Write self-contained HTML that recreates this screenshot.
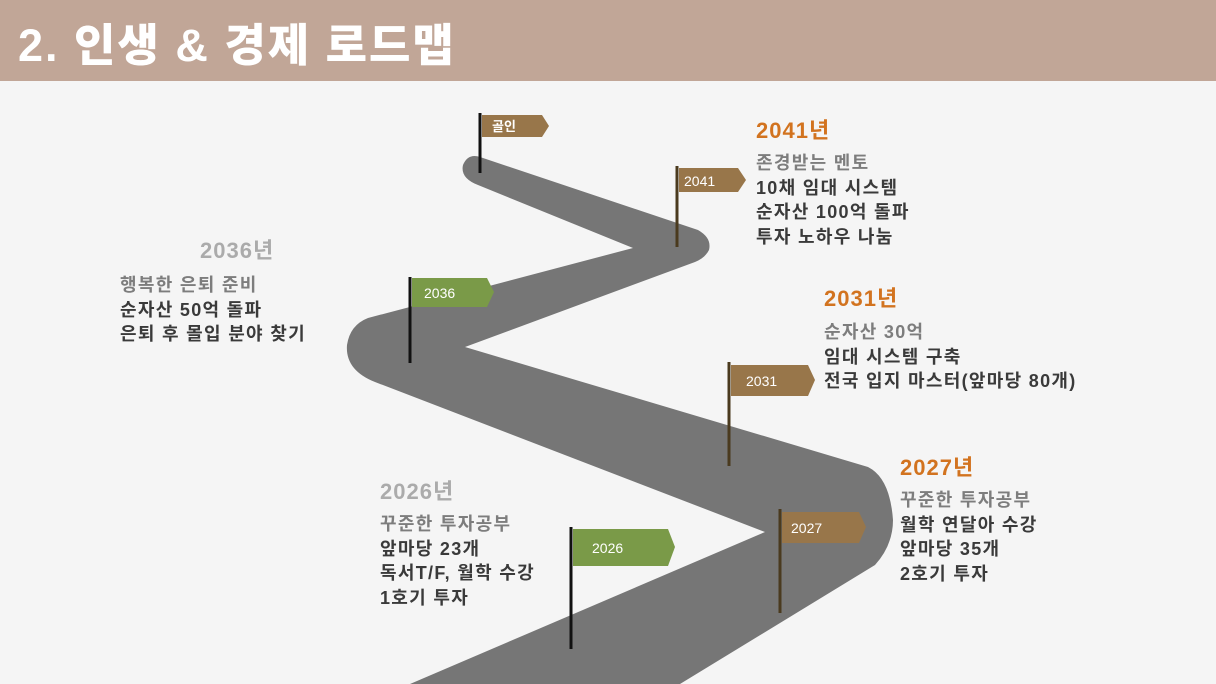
<!DOCTYPE html>
<html><head><meta charset="utf-8"><style>
body{margin:0;width:1216px;height:684px;overflow:hidden;background:#f5f5f5;position:relative;font-family:"Liberation Sans","Noto Sans CJK KR",sans-serif}
.hdr{position:absolute;left:0;top:0;width:1216px;height:81px;background:#c1a697}
.title{position:absolute;left:18px;top:9px;color:#fff;font-size:45px;font-weight:900;letter-spacing:2px;font-family:"Liberation Sans","Noto Sans CJK KR",sans-serif}
.t{position:absolute;font-size:18px;line-height:24.5px;font-weight:700;color:#3a3a3a;letter-spacing:1.3px;white-space:nowrap}
.t .g{color:#7d7d7d}
.y{position:absolute;font-size:22px;font-weight:700;letter-spacing:1px;white-space:nowrap}
.o{color:#d2731f}.gy{color:#ababab}
</style></head><body>
<div class="hdr"></div>
<div class="title">2. 인생 &amp; 경제 로드맵</div>
<svg width="1216" height="684" style="position:absolute;left:0;top:0">
<path d="M410,684 L765,532 L375,382 Q345,370 347,345 Q350,325 368,318 L633,248 L478,185 Q460,178 463,165 Q468,153 480,157 L698,230 Q712,238 709,250 Q705,258 695,262 L465,347 L868,467 Q890,478 893,520 Q893,545 875,565 L680,684 Z" fill="#767676"/>
<g font-family="Liberation Sans, Noto Sans CJK KR, sans-serif" font-size="14" fill="#fff">
<line x1="480" y1="113" x2="480" y2="173" stroke="#111" stroke-width="3"/>
<polygon points="482,115 542,115 549,126 542,137 482,137" fill="#98764a"/>
<text x="492" y="131" font-weight="700" font-size="13">골인</text>
<line x1="677" y1="166" x2="677" y2="247" stroke="#4a3a1e" stroke-width="3"/>
<polygon points="679,168 738,168 746,180 738,192 679,192" fill="#98764a"/>
<text x="684" y="186">2041</text>
<line x1="410" y1="277" x2="410" y2="363" stroke="#111" stroke-width="3"/>
<polygon points="412,278 487,278 494,292 487,307 412,307" fill="#7a9a48"/>
<text x="424" y="298">2036</text>
<line x1="729" y1="362" x2="729" y2="466" stroke="#4a3a1e" stroke-width="3"/>
<polygon points="731,365 808,365 815,380 808,396 731,396" fill="#98764a"/>
<text x="746" y="386">2031</text>
<line x1="780" y1="509" x2="780" y2="613" stroke="#4a3a1e" stroke-width="3"/>
<polygon points="782,512 859,512 866,527 859,543 782,543" fill="#98764a"/>
<text x="791" y="533">2027</text>
<line x1="571" y1="527" x2="571" y2="649" stroke="#111" stroke-width="3"/>
<polygon points="573,529 668,529 675,547 668,566 573,566" fill="#7a9a48"/>
<text x="592" y="553">2026</text>
</g>
</svg>
<div class="y o" style="left:756px;top:113px">2041년</div>
<div class="t" style="left:756px;top:151px"><span class="g">존경받는 멘토</span><br>10채 임대 시스템<br>순자산 100억 돌파<br>투자 노하우 나눔</div>
<div class="y gy" style="left:200px;top:233px">2036년</div>
<div class="t" style="left:120px;top:273px"><span class="g">행복한 은퇴 준비</span><br>순자산 50억 돌파<br>은퇴 후 몰입 분야 찾기</div>
<div class="y o" style="left:824px;top:281px">2031년</div>
<div class="t" style="left:824px;top:320px"><span class="g">순자산 30억</span><br>임대 시스템 구축<br>전국 입지 마스터(앞마당 80개)</div>
<div class="y o" style="left:900px;top:450px">2027년</div>
<div class="t" style="left:900px;top:488px"><span class="g">꾸준한 투자공부</span><br>월학 연달아 수강<br>앞마당 35개<br>2호기 투자</div>
<div class="y gy" style="left:380px;top:474px">2026년</div>
<div class="t" style="left:380px;top:512px"><span class="g">꾸준한 투자공부</span><br>앞마당 23개<br>독서T/F, 월학 수강<br>1호기 투자</div>
</body></html>
